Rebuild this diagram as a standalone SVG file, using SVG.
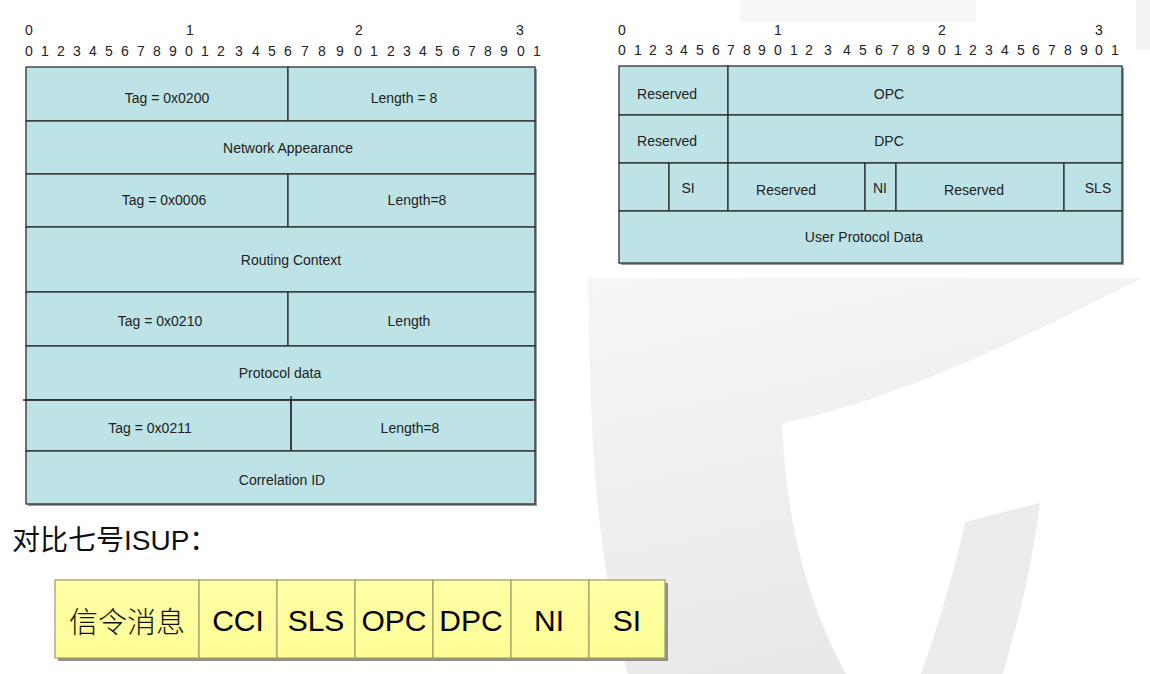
<svg xmlns="http://www.w3.org/2000/svg" width="1150" height="674" viewBox="0 0 1150 674">
<style>
.t{font-family:"Liberation Sans",Arial,sans-serif;font-size:14px;fill:#222;text-anchor:middle;dominant-baseline:central}
.d{font-family:"Liberation Sans",Arial,sans-serif;font-size:14px;fill:#222;text-anchor:middle;dominant-baseline:central}
.c{fill:#bee3e6;stroke:#2e2e2e;stroke-width:1.3}
.y{fill:url(#yg);stroke:#a3a36a;stroke-width:1.3}
.yt{font-family:"Liberation Sans",Arial,"Noto Sans CJK SC",sans-serif;font-size:30px;fill:#000;text-anchor:middle;dominant-baseline:central}
.cjk{font-family:"Noto Sans CJK SC",sans-serif;font-size:29px;font-weight:300;fill:#111;text-anchor:middle;dominant-baseline:central}
</style>
<defs>
<linearGradient id="wm" x1="0" y1="0" x2="0.3" y2="1">
<stop offset="0" stop-color="#f6f6f6"/>
<stop offset="1" stop-color="#e9e9e9"/>
</linearGradient>
<linearGradient id="yg" x1="0" y1="0" x2="0" y2="1">
<stop offset="0" stop-color="#ffffa6"/>
<stop offset="1" stop-color="#fdfd96"/>
</linearGradient>
</defs>
<rect width="1150" height="674" fill="#fff"/>
<g id="watermark">
<path d="M588 278 L1142 278 C1040 330 900 400 782 423 C786 520 806 600 846 674 L628 674 C602 580 590 480 588 278 Z" fill="url(#wm)"/>
<path d="M965 522 L1040 503 C1030 580 1015 630 1003 674 L921 674 C940 620 955 570 965 522 Z" fill="#ececec"/>
<rect x="740" y="0" width="236" height="22" fill="#f7f7f7"/>
<rect x="1136" y="0" width="14" height="50" fill="#f3f3f3"/>
</g>
<g id="connectors"/>
<g id="left-header">
<text class="d" y="30" x="29 190 359 520">0123</text>
<text class="d" y="51" x="29 45 61 77 93 109 125 141 157 173 189 205 221 239 256 272 288 305 322 340 358 374 391 407 423 439 456 472 488 504 521 537">01234567890123456789012345678901</text>
</g>
<g id="left-table">
<rect x="28" y="69" width="509" height="437" fill="#9a9a9a"/>
<g id="l-tag0200"><rect class="c" x="26" y="67" width="262" height="54"/><text class="t" x="167" y="98">Tag = 0x0200</text></g>
<g id="l-len0200"><rect class="c" x="288" y="67" width="247" height="54"/><text class="t" x="404" y="98">Length = 8</text></g>
<g id="l-netapp"><rect class="c" x="26" y="121" width="509" height="53"/><text class="t" x="288" y="148">Network Appearance</text></g>
<g id="l-tag0006"><rect class="c" x="26" y="174" width="262" height="53"/><text class="t" x="164" y="200">Tag = 0x0006</text></g>
<g id="l-len0006"><rect class="c" x="288" y="174" width="247" height="53"/><text class="t" x="417" y="200">Length=8</text></g>
<g id="l-routing"><rect class="c" x="26" y="227" width="509" height="65"/><text class="t" x="291" y="260">Routing Context</text></g>
<g id="l-tag0210"><rect class="c" x="26" y="292" width="262" height="54"/><text class="t" x="160" y="321">Tag = 0x0210</text></g>
<g id="l-len0210"><rect class="c" x="288" y="292" width="247" height="54"/><text class="t" x="409" y="321">Length</text></g>
<g id="l-protodata"><rect class="c" x="26" y="346" width="509" height="54"/><text class="t" x="280" y="373">Protocol data</text></g>
<g id="l-tag0211"><rect class="c" x="26" y="400" width="265" height="51"/><text class="t" x="150" y="428">Tag = 0x0211</text></g>
<g id="l-len0211"><rect class="c" x="291" y="400" width="244" height="51"/><text class="t" x="410" y="428">Length=8</text></g>
<g id="l-corr"><rect class="c" x="26" y="451" width="509" height="53"/><text class="t" x="282" y="480">Correlation ID</text></g>
<line x1="23" y1="400" x2="533" y2="400" stroke="#2e2e2e" stroke-width="1.3"/>
<line x1="291" y1="396" x2="291" y2="451" stroke="#2e2e2e" stroke-width="1.3"/>
</g>
<g id="right-header">
<text class="d" y="30" x="622 778 942 1099">0123</text>
<text class="d" y="50" x="622 638 653 669 684 700 716 731 747 762 778 794 809 828 847 863 879 895 911 926 942 958 973 989 1005 1021 1036 1052 1068 1084 1099 1115">01234567890123456789012345678901</text>
</g>
<g id="right-table">
<rect x="621" y="68" width="503" height="197" fill="#9a9a9a"/>
<g id="r-res1"><rect class="c" x="619" y="66" width="109" height="49"/><text class="t" x="667" y="94">Reserved</text></g>
<g id="r-opc"><rect class="c" x="728" y="66" width="394" height="49"/><text class="t" x="889" y="94">OPC</text></g>
<g id="r-res2"><rect class="c" x="619" y="115" width="109" height="48"/><text class="t" x="667" y="141">Reserved</text></g>
<g id="r-dpc"><rect class="c" x="728" y="115" width="394" height="48"/><text class="t" x="889" y="141">DPC</text></g>
<g id="r-blank"><rect class="c" x="619" y="163" width="50" height="48"/></g>
<g id="r-si"><rect class="c" x="669" y="163" width="59" height="48"/><text class="t" x="688" y="188">SI</text></g>
<g id="r-res3"><rect class="c" x="728" y="163" width="137" height="48"/><text class="t" x="786" y="190">Reserved</text></g>
<g id="r-ni"><rect class="c" x="865" y="163" width="31" height="48"/><text class="t" x="880" y="188">NI</text></g>
<g id="r-res4"><rect class="c" x="896" y="163" width="168" height="48"/><text class="t" x="974" y="190">Reserved</text></g>
<g id="r-sls"><rect class="c" x="1064" y="163" width="58" height="48"/><text class="t" x="1098" y="188">SLS</text></g>
<g id="r-upd"><rect class="c" x="619" y="211" width="503" height="52"/><text class="t" x="864" y="237">User Protocol Data</text></g>
</g>
<g id="caption">
<text x="12" y="540" font-family="'Liberation Sans','Noto Sans CJK SC',sans-serif" font-size="28" fill="#111" dominant-baseline="central">对比七号ISUP：</text>
</g>
<g id="isup-table">
<rect x="58" y="583" width="610" height="78" fill="#8f8f8f"/>
<g id="y-msg"><rect class="y" x="55" y="580" width="144" height="78"/><text class="cjk" x="127" y="620">信令消息</text></g>
<g id="y-cci"><rect class="y" x="199" y="580" width="78" height="78"/><text class="yt" x="238" y="620">CCI</text></g>
<g id="y-sls"><rect class="y" x="277" y="580" width="78" height="78"/><text class="yt" x="316" y="620">SLS</text></g>
<g id="y-opc"><rect class="y" x="355" y="580" width="78" height="78"/><text class="yt" x="394" y="620">OPC</text></g>
<g id="y-dpc"><rect class="y" x="433" y="580" width="78" height="78"/><text class="yt" x="471" y="620">DPC</text></g>
<g id="y-ni"><rect class="y" x="511" y="580" width="78" height="78"/><text class="yt" x="549" y="620">NI</text></g>
<g id="y-si"><rect class="y" x="589" y="580" width="76" height="78"/><text class="yt" x="627" y="620">SI</text></g>
</g>
</svg>
